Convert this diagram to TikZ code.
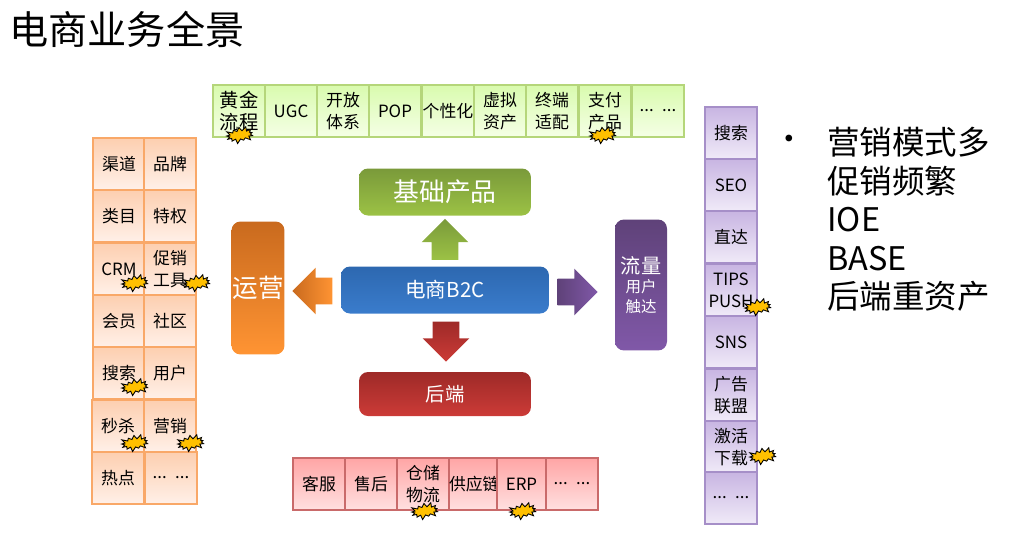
\documentclass[tikz,border=0pt]{standalone}
\usepackage{fontspec}
\setmainfont{Noto Sans CJK SC}
\usepackage{tikz}
\usetikzlibrary{shapes.arrows,shapes.symbols}
\definecolor{burst}{HTML}{FFC000}
\definecolor{gline}{HTML}{B5D67A}\definecolor{gtop}{HTML}{D9FBAE}\definecolor{gbot}{HTML}{F5FFE6}
\definecolor{oline}{HTML}{F9A868}\definecolor{otop}{HTML}{FDCFB0}\definecolor{obot}{HTML}{FFF0E8}
\definecolor{pline}{HTML}{A68FC8}\definecolor{ptop}{HTML}{C8B5E2}\definecolor{pbot}{HTML}{F0EAF8}
\definecolor{rline}{HTML}{C96A6A}\definecolor{rtop}{HTML}{FFA5A5}\definecolor{rbot}{HTML}{FFE0E0}
\definecolor{gdark}{HTML}{7A9A3A}\definecolor{glight}{HTML}{9CC245}
\definecolor{bdark}{HTML}{2D68B0}\definecolor{blight}{HTML}{3A7CCC}
\definecolor{odark}{HTML}{C96A1E}\definecolor{olight}{HTML}{FF9433}
\definecolor{vdark}{HTML}{5F4279}\definecolor{vlight}{HTML}{8058A8}
\definecolor{rdark}{HTML}{9E2A28}\definecolor{rlight}{HTML}{CC3B37}
\tikzset{
  cell/.style={draw, line width=.6pt, inner sep=0pt, minimum width=1.04cm, minimum height=1.04cm, text width=1.04cm, align=center, text=black, font=\fontsize{9.6}{12.4}\selectfont},
  green cell/.style={cell, draw=gline, top color=gtop, bottom color=gbot},
  orange cell/.style={cell, draw=oline, top color=otop, bottom color=obot},
  purple cell/.style={cell, draw=pline, top color=ptop, bottom color=pbot},
  red cell/.style={cell, draw=rline, top color=rtop, bottom color=rbot},
  block/.style={rounded corners=.18cm, inner sep=0pt, text=white, align=center},
  arrow/.style={single arrow, inner sep=.26cm, single arrow head extend=.2cm},
  spark/.style={starburst, starburst points=13, starburst point height=.1cm, draw=black, fill=burst, line width=.5pt, inner sep=0pt, minimum width=.62cm, minimum height=.36cm, rotate=8}
}
\begin{document}
\begin{tikzpicture}[x=.02cm,y=-.02cm]
    \useasboundingbox (0,0) rectangle (1018,539);

    \node[anchor=west, inner sep=0pt, font=\fontsize{22.3}{24}\selectfont] (title) at (9,29) {电商业务全景};

    % top row
    \node[green cell, font=\fontsize{11}{12.6}\selectfont] (t1) at (239,111) {黄金\\流程};
    \node[green cell] (t2) at (291,111) {UGC}; \node[green cell] (t3) at (343,111) {开放\\体系};
    \node[green cell] (t4) at (395,111) {POP}; \node[green cell] (t5) at (448,111) {个性化};
    \node[green cell] (t6) at (500,111) {虚拟\\资产}; \node[green cell] (t7) at (552,111) {终端\\适配};
    \node[green cell] (t8) at (605,111) {支付\\产品}; \node[green cell] (t9) at (658,111) {... ...};

    % left columns
    \node[orange cell] (a1) at (119,164) {渠道}; \node[orange cell] (b1) at (170,164) {品牌};
    \node[orange cell] (a2) at (119,216) {类目}; \node[orange cell] (b2) at (170,216) {特权};
    \node[orange cell] (a3) at (119,269) {CRM}; \node[orange cell] (b3) at (170,269) {促销\\工具};
    \node[orange cell] (a4) at (119,321) {会员}; \node[orange cell] (b4) at (170,321) {社区};
    \node[orange cell] (a5) at (119,373) {搜索}; \node[orange cell] (b5) at (170,373) {用户};
    \node[orange cell] (a6) at (118,426) {秒杀}; \node[orange cell] (b6) at (170,426) {营销};
    \node[orange cell] (a7) at (118,478) {热点}; \node[orange cell] (b7) at (171,478) {... ...};

    % right column
    \node[purple cell] (r1) at (731,133) {搜索}; \node[purple cell] (r2) at (731,185) {SEO};
    \node[purple cell] (r3) at (731,237) {直达}; \node[purple cell] (r4) at (731,290) {TIPS\\PUSH};
    \node[purple cell] (r5) at (731,342) {SNS}; \node[purple cell] (r6) at (731,395) {广告\\联盟};
    \node[purple cell] (r7) at (731,447) {激活\\下载}; \node[purple cell] (r8) at (731,498) {... ...};

    % bottom row
    \node[red cell] (u1) at (319,484) {客服}; \node[red cell] (u2) at (371,484) {售后};
    \node[red cell] (u3) at (423,484) {仓储\\物流};
    \node[red cell, minimum width=.96cm, text width=.96cm] (u4) at (473,484) {供应链};
    \node[red cell, minimum width=.98cm, text width=.98cm] (u5) at (521.5,484) {ERP}; \node[red cell] (u6) at (572,484) {... ...};

    % middle blocks
    \node[block, minimum width=3.44cm, minimum height=.94cm, top color=gdark, bottom color=glight, font=\fontsize{14.7}{17}\selectfont] (base) at (445,192) {基础产品};
    \node[block, minimum width=4.16cm, minimum height=.94cm, top color=bdark, bottom color=blight, font=\fontsize{11.7}{14}\selectfont] (core) at (445,290) {电商B2C};
    \node[block, minimum width=3.44cm, minimum height=.88cm, top color=rdark, bottom color=rlight, font=\fontsize{11}{14}\selectfont] (back) at (445,394) {后端};
    \node[block, minimum width=1.06cm, minimum height=2.66cm, top color=odark, bottom color=olight, font=\fontsize{14.5}{17}\selectfont] (ops) at (258,288) {运营};
    \node[block, minimum width=1.04cm, minimum height=2.62cm, top color=vdark, bottom color=vlight, font=\fontsize{8.8}{11}\selectfont] (flow) at (641,285) {{\fontsize{11.5}{13}\selectfont 流量}\\用户\\触达};

    % arrows
    \node[arrow, shape border rotate=90, minimum height=.82cm, top color=gdark, bottom color=glight] (up) at (445,246) {};
    \node[arrow, shape border rotate=270, minimum height=.76cm, top color=rdark, bottom color=rlight] (down) at (446,335) {};
    \node[arrow, shape border rotate=180, minimum height=.76cm, left color=odark, right color=olight] (left) at (319,291) {};
    \node[arrow, minimum height=.78cm, left color=vdark, right color=vlight] (right) at (571,292) {};

    % sparks
    \node[spark] (s1) at (240,135) {}; \node[spark] (s2) at (603,135) {};
    \node[spark] (s3) at (135,283) {}; \node[spark] (s4) at (197,283) {};
    \node[spark] (s5) at (135,387) {}; \node[spark] (s6) at (135,443) {};
    \node[spark] (s7) at (191,443) {}; \node[spark] (s8) at (758,307) {};
    \node[spark] (s9) at (763,456) {}; \node[spark] (s10) at (425,511) {};
    \node[spark] (s11) at (523,511) {};

    % bullet text
    \node[inner sep=0pt, font=\fontsize{18}{18}\selectfont] (dot) at (789,143) {•};
    \node[anchor=north west, inner sep=0pt, align=left, font=\fontsize{18.5}{21.9}\selectfont] (notes) at (827,127) {营销模式多\\促销频繁\\IOE\\BASE\\后端重资产};
\end{tikzpicture}
\end{document}
